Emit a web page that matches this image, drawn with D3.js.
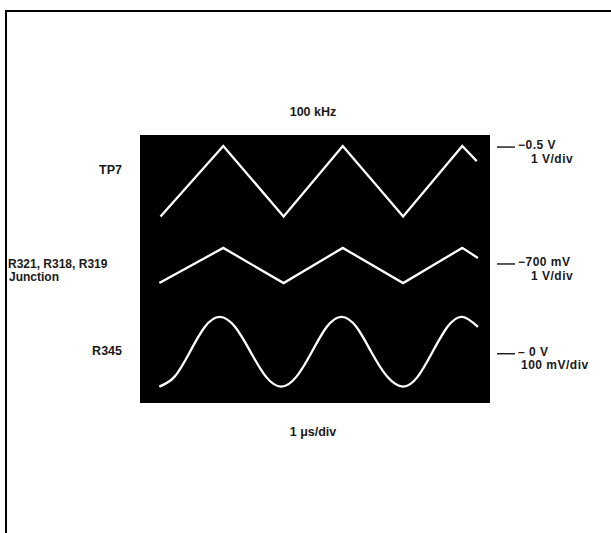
<!DOCTYPE html>
<html>
<head>
<meta charset="utf-8">
<script src="https://cdn.jsdelivr.net/npm/d3@7/dist/d3.min.js"></script>
<style>
  body { margin: 0; background: #fff; }
  svg text { font-family: "Liberation Sans", Arial, sans-serif; font-size: 12.5px; font-weight: bold; fill: #1a1a1a; }
  svg text.ref { font-size: 12px; letter-spacing: 0.5px; }
  svg text.junc { font-size: 12px; }
</style>
</head>
<body>
<svg id="chart" width="611" height="533"></svg>
<script>
// traces, time in microseconds
var tp7Time = [1.7, 6.9, 11.9, 16.8, 21.8, 26.7, 27.9];
var tp7Volts = [-2.6, -0.5, -2.6, -0.5, -2.6, -0.5, -0.95];

var juncTime = [1.6, 6.9, 11.9, 16.8, 21.8, 26.7, 28.0];
var juncVolts = [-1.3, -0.25, -1.3, -0.25, -1.3, -0.25, -0.55];

var r345Time = [1.6, 2.85, 4.1, 5.35, 6.6, 7.9, 9.2, 10.45, 11.7, 12.95, 14.2, 15.45,
                16.7, 17.95, 19.2, 20.5, 21.8, 23.0, 24.2, 25.45, 26.7, 28.0];
var r345mV = [-101, -72, 0, 76, 107, 76, 0, -72, -101, -72, 0, 76,
              107, 76, 0, -72, -101, -72, 0, 76, 107, 77];

var traceNames = ["TP7", "R321, R318, R319|Junction", "R345"];
var refLabels = ["\u22120.5 V", "\u2212700 mV", "\u2013 0 V"];
var scaleLabels = ["1 V/div", "1 V/div", "100 mV/div"];
var refLevels = [-0.5, -0.7, 0];      // volts, volts, millivolts
var perDiv = [1, 1, 100];

var svg = d3.select("#chart");

var screen = {left: 140, right: 490, top: 135, bottom: 403};

// outer frame
svg.append("rect")
    .attr("x", 6).attr("y", 11)
    .attr("width", 640).attr("height", 560)
    .attr("fill", "none").attr("stroke", "#000").attr("stroke-width", 2);

var x = d3.scaleLinear().domain([0, 29]).range([screen.left, screen.right]);
// 8 vertical divisions
var yDiv = d3.scaleLinear().domain([-4, 4]).range([screen.bottom, screen.top]);
var refDiv = [3.67, 0.18, -2.5];

svg.append("rect")
    .attr("x", screen.left).attr("y", screen.top)
    .attr("width", screen.right - screen.left)
    .attr("height", screen.bottom - screen.top)
    .attr("fill", "#000");

function traceScale(i) {
    return function(v) { return yDiv(refDiv[i] + (v - refLevels[i]) / perDiv[i]); };
}

var traces = [
    {t: tp7Time, v: tp7Volts, curve: d3.curveLinear},
    {t: juncTime, v: juncVolts, curve: d3.curveLinear},
    {t: r345Time, v: r345mV, curve: d3.curveNatural}
];

var nameY = [171, 265, 352];

traces.forEach(function(tr, i) {
    var ys = traceScale(i);
    var line = d3.line()
        .x(function(d) { return x(d[0]); })
        .y(function(d) { return ys(d[1]); })
        .curve(tr.curve);
    svg.append("path")
        .datum(d3.zip(tr.t, tr.v))
        .attr("d", line)
        .attr("fill", "none")
        .attr("stroke", "#fff")
        .attr("stroke-width", 2.3)
        .attr("stroke-linejoin", "miter");

    var yRef = ys(refLevels[i]);

    // name on the left
    var parts = traceNames[i].split("|");
    var nameText = svg.append("text")
        .attr("y", nameY[i])
        .attr("dominant-baseline", "middle");
    if (parts.length > 1) {
        nameText.attr("class", "junc").attr("x", 8).attr("text-anchor", "start");
        parts.forEach(function(p, k) {
            nameText.append("tspan").attr("x", 8 + k).attr("dy", k ? 12.5 : 0).text(p);
        });
    } else {
        nameText.attr("x", 122).attr("text-anchor", "end").text(parts[0]);
    }

    // reference marker on the right
    svg.append("line")
        .attr("x1", 497).attr("x2", 515)
        .attr("y1", yRef + 1).attr("y2", yRef + 1)
        .attr("stroke", "#000").attr("stroke-width", 1.3);
    svg.append("text")
        .attr("class", "ref")
        .attr("x", 518).attr("y", yRef)
        .attr("dominant-baseline", "middle")
        .text(refLabels[i]);
    svg.append("text")
        .attr("class", "ref")
        .attr("x", i === 2 ? 521 : 531).attr("y", yRef + 13.5)
        .attr("dominant-baseline", "middle")
        .text(scaleLabels[i]);
});

svg.append("text")
    .attr("x", 313).attr("y", 113)
    .attr("text-anchor", "middle").attr("dominant-baseline", "middle")
    .text("100 kHz");

svg.append("text")
    .attr("x", 313).attr("y", 433)
    .attr("text-anchor", "middle").attr("dominant-baseline", "middle")
    .text("1 \u03bcs/div");
</script>
</body>
</html>
